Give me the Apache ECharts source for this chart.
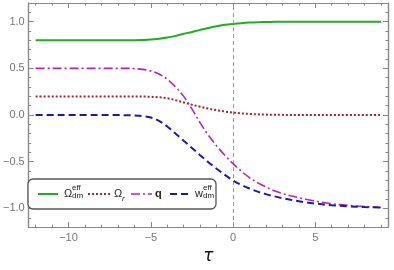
<!DOCTYPE html>
<html><head><meta charset="utf-8">
<script src="https://cdn.jsdelivr.net/npm/echarts@6/dist/echarts.min.js"></script>
<style>html,body{margin:0;padding:0;background:#fff}#c{width:394px;height:270px}</style>
</head><body><div id="c"></div>
<script>
const tau =        [-12,-11,-10,-9,-8,-7.5,-7,-6.5,-6,-5.5,-5,-4.5,-4,-3.5,-3,-2.5,-2,-1.5,-1,-0.5,0,0.5,1,1.5,2,2.5,3,3.5,4,4.5,5,6,7,8,9];
const omegaDmEff = [0.8,0.8,0.8,0.8,0.8,0.8,0.8,0.801,0.802,0.804,0.808,0.817,0.83,0.848,0.87,0.89,0.912,0.933,0.952,0.966,0.976,0.984,0.99,0.994,0.996,0.998,0.999,1,1,1,1,1,1,1,1];
const omegaR =     [0.2,0.2,0.2,0.2,0.2,0.2,0.2,0.199,0.199,0.198,0.196,0.19,0.18,0.16,0.135,0.111,0.089,0.069,0.052,0.038,0.027,0.018,0.012,0.008,0.005,0.003,0.002,0.001,0.001,0,0,0,0,0,0];
const qVals =      [0.5,0.5,0.5,0.5,0.5,0.5,0.5,0.5,0.497,0.489,0.472,0.44,0.383,0.302,0.2,0.066,-0.084,-0.215,-0.33,-0.43,-0.52,-0.6,-0.67,-0.725,-0.77,-0.81,-0.84,-0.865,-0.885,-0.905,-0.922,-0.95,-0.967,-0.98,-0.99];
const wDmEff =     [0,0,0,0,0,0,0,-0.002,-0.005,-0.012,-0.027,-0.062,-0.122,-0.197,-0.275,-0.352,-0.43,-0.505,-0.575,-0.64,-0.7,-0.748,-0.787,-0.82,-0.847,-0.87,-0.89,-0.908,-0.923,-0.937,-0.948,-0.965,-0.977,-0.985,-0.99];
const xMajorTicks = [-10,-5,0,5];
const xMinorTicks = [-12,-11,-9,-8,-7,-6,-4,-3,-2,-1,1,2,3,4,6,7,8,9];
const yMajorTicks = [-1,-0.5,0,0.5,1];
const yMinorTicks = [-1.2,-1.1,-0.9,-0.8,-0.7,-0.6,-0.4,-0.3,-0.2,-0.1,0.1,0.2,0.3,0.4,0.6,0.7,0.8,0.9,1.1,1.2];
const seriesNames = ['Ω_dm^eff','Ω_r','q','w_dm^eff'];

const X_MIN = -12.42, X_MAX = 9.42, Y_MIN = -1.2, Y_MAX = 1.2;
const frameColor = '#888';
const minus = s => String(s).replace('-', '\u2212');

function xAxisDef(pos, ticks, len, labels, name) {
  return {
    type: 'value', gridIndex: 0, position: pos, min: X_MIN, max: X_MAX,
    axisLine: {show: true, onZero: false, lineStyle: {color: frameColor, width: 1.2}},
    axisTick: {show: true, inside: true, length: len, customValues: ticks, lineStyle: {color: frameColor, width: 1}},
    axisLabel: labels ? {show: true, customValues: ticks, formatter: v => minus(v), color: '#777', fontSize: 11, fontFamily: 'Liberation Sans', margin: 5} : {show: false},
    splitLine: {show: false},
    name: name || '', nameLocation: 'middle', nameGap: 19,
    nameTextStyle: {fontSize: 17, fontStyle: 'italic', fontFamily: 'DejaVu Sans', color: '#111'}
  };
}
function yAxisDef(pos, ticks, len, labels) {
  return {
    type: 'value', gridIndex: 0, position: pos, min: Y_MIN, max: Y_MAX,
    axisLine: {show: true, onZero: false, lineStyle: {color: frameColor, width: 1.2}},
    axisTick: {show: true, inside: true, length: len, customValues: ticks, lineStyle: {color: frameColor, width: 1}},
    axisLabel: labels ? {show: true, customValues: ticks, formatter: v => minus(v.toFixed(1)), color: '#777', fontSize: 11, fontFamily: 'Liberation Sans', margin: 4} : {show: false},
    splitLine: {show: false}
  };
}

const pairs = arr => tau.map((t, i) => [t, arr[i]]);
const styles = [
  {color: '#1fae1f', width: 2, type: 'solid'},
  {color: '#b22020', width: 2, type: [2, 2]},
  {color: '#b226b8', width: 1.6, type: [9, 3, 2, 3]},
  {color: '#1a1aa8', width: 2, type: [7, 4]}
];
const dataSets = [omegaDmEff, omegaR, qVals, wDmEff];

const series = dataSets.map((d, i) => ({
  name: seriesNames[i], type: 'line', xAxisIndex: 0, yAxisIndex: 0,
  data: pairs(d), smooth: 0.35, showSymbol: false, symbol: 'none',
  lineStyle: styles[i], z: 3 + i,
  markLine: i === 0 ? {
    silent: true, symbol: 'none', label: {show: false},
    lineStyle: {color: '#999', width: 1, type: [4, 3]},
    data: [{xAxis: 0}]
  } : undefined
}));

// Legend box
const LX = 28, LY = 179, LW = 188, LH = 30, LC = LY + LH / 2;
const legendItems = [
  {x0: 38, x1: 58},
  {x0: 88, x1: 110},
  {x0: 131, x1: 152},
  {x0: 170, x1: 189}
];
const graphics = [
  {type: 'rect', shape: {x: LX, y: LY, width: LW, height: LH, r: 5}, style: {fill: '#fff', stroke: '#555', lineWidth: 1.3}, z: 10}
];
legendItems.forEach((it, i) => {
  graphics.push({type: 'line', shape: {x1: it.x0, y1: LC, x2: it.x1, y2: LC},
    style: {stroke: styles[i].color, lineWidth: styles[i].width, lineDash: Array.isArray(styles[i].type) ? styles[i].type : null}, z: 11});
});
const tf = 'Liberation Sans';
graphics.push(
  {type: 'text', x: 64, y: LC, style: {text: 'Ω', font: '11px ' + tf, fill: '#222', verticalAlign: 'middle'}, z: 11},
  {type: 'text', x: 72, y: LC - 2, style: {text: 'eff', font: '8px ' + tf, fill: '#222', verticalAlign: 'bottom'}, z: 11},
  {type: 'text', x: 72, y: LC - 2, style: {text: 'dm', font: '8px ' + tf, fill: '#222', verticalAlign: 'top'}, z: 11},
  {type: 'text', x: 114, y: LC, style: {text: 'Ω', font: '11px ' + tf, fill: '#222', verticalAlign: 'middle'}, z: 11},
  {type: 'text', x: 122, y: LC + 1, style: {text: 'r', font: 'italic 8px ' + tf, fill: '#222', verticalAlign: 'top'}, z: 11},
  {type: 'text', x: 155, y: LC, style: {text: 'q', font: 'bold 11px ' + tf, fill: '#222', verticalAlign: 'middle'}, z: 11},
  {type: 'text', x: 195, y: LC, style: {text: 'w', font: '11px ' + tf, fill: '#222', verticalAlign: 'middle'}, z: 11},
  {type: 'text', x: 203, y: LC - 2, style: {text: 'eff', font: '8px ' + tf, fill: '#222', verticalAlign: 'bottom'}, z: 11},
  {type: 'text', x: 203, y: LC - 2, style: {text: 'dm', font: '8px ' + tf, fill: '#222', verticalAlign: 'top'}, z: 11}
);

const chart = echarts.init(document.getElementById('c'), null, {renderer: 'canvas'});
chart.setOption({
  animation: false,
  backgroundColor: '#fff',
  grid: {left: 25, right: 6, top: 3, bottom: 41, containLabel: false},
  xAxis: [
    xAxisDef('bottom', xMajorTicks, 5, true, 'τ'),
    xAxisDef('bottom', xMinorTicks, 2.5, false),
    xAxisDef('top', xMajorTicks, 5, false),
    xAxisDef('top', xMinorTicks, 2.5, false)
  ],
  yAxis: [
    yAxisDef('left', yMajorTicks, 5, true),
    yAxisDef('left', yMinorTicks, 2.5, false),
    yAxisDef('right', yMajorTicks, 5, false),
    yAxisDef('right', yMinorTicks, 2.5, false)
  ],
  series: series,
  graphic: graphics
});
</script></body></html>
